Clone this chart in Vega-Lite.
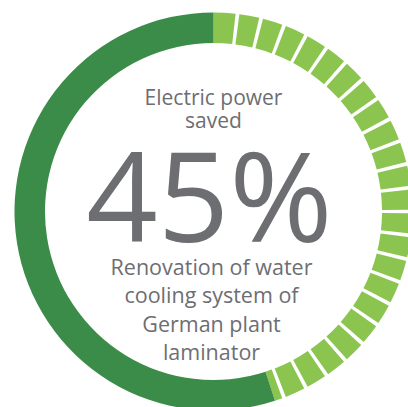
{
  "$schema": "https://vega.github.io/schema/vega-lite/v6.json",
  "width": 427,
  "height": 423,
  "padding": 0,
  "autosize": {"type": "none"},
  "background": "white",
  "config": {"view": {"stroke": null}},
  "layer": [
    {
      "data": {"values": [
        {"part": "saved", "start": 0, "end": 6.37},
        {"part": "saved", "start": 7.47, "end": 13.30},
        {"part": "saved", "start": 14.40, "end": 20.22},
        {"part": "saved", "start": 21.32, "end": 27.14},
        {"part": "saved", "start": 28.24, "end": 34.07},
        {"part": "saved", "start": 35.17, "end": 40.99},
        {"part": "saved", "start": 42.09, "end": 47.91},
        {"part": "saved", "start": 49.01, "end": 54.83},
        {"part": "saved", "start": 55.94, "end": 61.76},
        {"part": "saved", "start": 62.86, "end": 68.68},
        {"part": "saved", "start": 69.78, "end": 75.60},
        {"part": "saved", "start": 76.70, "end": 82.53},
        {"part": "saved", "start": 83.63, "end": 89.45},
        {"part": "saved", "start": 90.55, "end": 96.37},
        {"part": "saved", "start": 97.47, "end": 103.30},
        {"part": "saved", "start": 104.40, "end": 110.22},
        {"part": "saved", "start": 111.32, "end": 117.14},
        {"part": "saved", "start": 118.24, "end": 124.07},
        {"part": "saved", "start": 125.17, "end": 130.99},
        {"part": "saved", "start": 132.09, "end": 137.91},
        {"part": "saved", "start": 139.01, "end": 144.83},
        {"part": "saved", "start": 145.94, "end": 151.76},
        {"part": "saved", "start": 152.86, "end": 158.68},
        {"part": "saved", "start": 159.78, "end": 162},
        {"part": "used", "start": 162, "end": 360}
      ]},
      "mark": {"type": "arc", "innerRadius": 168.5, "outerRadius": 199},
      "encoding": {
        "theta": {"field": "start", "type": "quantitative", "scale": {"domain": [0, 360], "range": [0, 6.283185307]}},
        "theta2": {"field": "end"},
        "color": {"field": "part", "type": "nominal", "scale": {"domain": ["saved", "used"], "range": ["#8bc550", "#3b8c48"]}, "legend": null}
      }
    },
    {
      "data": {"values": [{"label": "Electric power\nsaved"}]},
      "mark": {"type": "text", "font": "Open Sans", "fontSize": 21, "lineBreak": "\n", "lineHeight": 23, "baseline": "alphabetic", "align": "center", "dy": -106.5, "color": "#6d6e72"},
      "encoding": {"text": {"field": "label"}}
    },
    {
      "data": {"values": [{"label": "45%"}]},
      "mark": {"type": "text", "font": "Open Sans", "fontSize": 125, "baseline": "alphabetic", "align": "center", "dy": 30.2, "dx": -4, "color": "#6d6e72"},
      "encoding": {"text": {"field": "label"}}
    },
    {
      "data": {"values": [{"label": "Renovation of water\ncooling system of\nGerman plant\nlaminator"}]},
      "mark": {"type": "text", "font": "Open Sans", "fontSize": 21.5, "lineBreak": "\n", "lineHeight": 28.3, "baseline": "alphabetic", "align": "center", "dy": 63.5, "dx": -2, "color": "#6d6e72"},
      "encoding": {"text": {"field": "label"}}
    }
  ]
}
